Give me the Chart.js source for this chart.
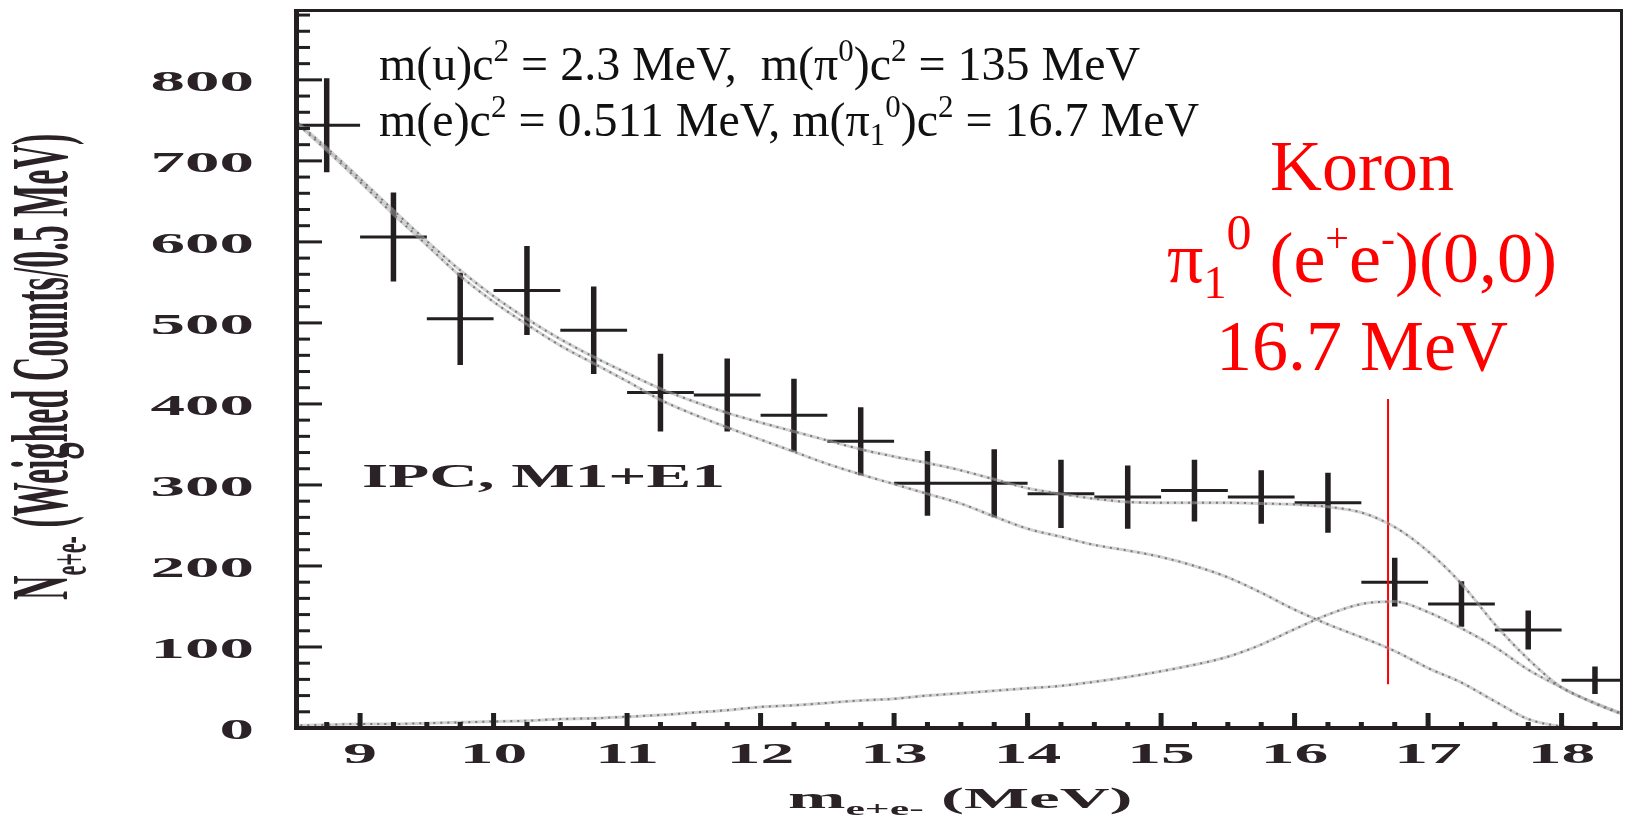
<!DOCTYPE html>
<html>
<head>
<meta charset="utf-8">
<title>Koron 16.7 MeV</title>
<script src="https://cdn.jsdelivr.net/npm/chart.js@4.4.1/dist/chart.umd.min.js"></script>
<style>
  html, body { margin: 0; padding: 0; background: #fff; }
</style>
</head>
<body>
<canvas id="chart" width="1625" height="819"></canvas>
<script>
// measured e+e- pairs, 0.5 MeV bins
const binCenters = [8.75, 9.25, 9.75, 10.25, 10.75, 11.25, 11.75, 12.25, 12.75, 13.25,
                    13.75, 14.25, 14.75, 15.25, 15.75, 16.25, 16.75, 17.25, 17.75, 18.25];
const counts = [744, 606, 505, 540, 491, 414, 411, 386, 354, 302,
                302, 289, 285, 293, 285, 278, 180, 153, 121, 59];
const countErrors = [58, 55, 57, 55, 54, 48, 45, 45, 42, 40,
                     42, 42, 39, 38, 33, 37, 30, 28, 24, 17];
const binHalfWidth = 0.25;

const curveMass = [8.5, 8.75, 9, 9.25, 9.5, 9.75, 10, 10.25, 10.5, 10.75, 11, 11.25, 11.5, 11.75,
                   12, 12.25, 12.5, 12.75, 13, 13.25, 13.5, 13.75, 14, 14.25, 14.5, 14.75, 15, 15.25,
                   15.5, 15.75, 16, 16.25, 16.5, 16.75, 17, 17.25, 17.5, 17.75, 18, 18.25, 18.5];
const ipcCurve = [750, 713, 674, 634, 596, 558, 526, 498, 472, 450, 428, 405, 387, 371,
                  356, 341, 326, 313, 301, 289, 277, 261, 246, 236, 226, 219, 211, 200,
                  186, 167, 146, 128, 112, 95, 74, 56, 33, 11, 2, 0, 0];
const koronCurve = [3, 4, 5, 5, 6, 7, 8, 9, 11, 12, 14, 16, 19, 22,
                    26, 28, 31, 34, 36, 40, 43, 46, 49, 52, 57, 63, 70, 78,
                    88, 103, 122, 140, 153, 156, 143, 123, 100, 72, 50, 30, 14];
const sumCurve = [752, 716, 678, 639, 601, 565, 533, 505, 480, 458, 438, 419, 403, 389,
                  377, 366, 355, 344, 335, 327, 318, 307, 296, 289, 283, 279, 278, 278,
                  278, 277, 276, 273, 266, 248, 218, 178, 128, 85, 50, 31, 15];

const yTickLabels = [0, 100, 200, 300, 400, 500, 600, 700, 800];
const xTickLabels = [9, 10, 11, 12, 13, 14, 15, 16, 17, 18];

const koronMass = 16.7;
const koronMarker = [54, 406];

const ink = '#231f20';
const labelInk = '#2b2228';

function pts(xs, ys) {
  return xs.map((x, i) => ({x: x, y: ys[i]}));
}

// error bars as broken line segments
const vBars = [], hBars = [];
binCenters.forEach((m, i) => {
  vBars.push({x: m, y: counts[i] - countErrors[i]}, {x: m, y: counts[i] + countErrors[i]}, {x: m, y: null});
  hBars.push({x: m - binHalfWidth, y: counts[i]}, {x: m + binHalfWidth, y: counts[i]}, {x: m, y: null});
});

// scanned dotted look: pale band plus darker dots
function curveSets(ys) {
  return [
    {data: pts(curveMass, ys), borderColor: 'rgba(165,165,165,0.5)', borderWidth: 3},
    {data: pts(curveMass, ys), borderColor: '#4a4a4a', borderWidth: 2, borderDash: [2, 5]}
  ];
}

function drawRuns(ctx, runs, x, y) {
  let cx = x;
  runs.forEach(r => {
    ctx.font = r.font;
    ctx.fillText(r.t, cx, y + (r.dy || 0));
    cx += ctx.measureText(r.t).width;
  });
  return cx - x;
}

function runsWidth(ctx, runs) {
  let w = 0;
  runs.forEach(r => { ctx.font = r.font; w += ctx.measureText(r.t).width; });
  return w;
}

function stretchText(ctx, text, x, y, sx, align) {
  ctx.save();
  ctx.translate(x, y);
  ctx.scale(sx, 1);
  ctx.textAlign = align;
  ctx.fillText(text, 0, 0);
  ctx.restore();
}

const axisFrame = {
  id: 'axisFrame',
  afterDatasetsDraw(chart) {
    const {ctx, chartArea: a, scales: {x, y}} = chart;
    ctx.save();
    ctx.fillStyle = ink;
    // inward ticks on the left axis
    for (let v = 0; v <= y.max; v += 20) {
      const py = y.getPixelForValue(v);
      const len = v % 100 === 0 ? 24 : 12;
      ctx.fillRect(a.left, py - 1.5, len, 3);
    }
    // inward ticks on the bottom axis
    for (let k = Math.ceil(x.min * 4); k / 4 <= x.max; k++) {
      const px = x.getPixelForValue(k / 4);
      const len = k % 4 === 0 ? 15 : 6;
      ctx.fillRect(px - 2.5, a.bottom - len, 5, len);
    }
    ctx.fillRect(a.left - 4, a.top - 2, 5, a.bottom - a.top + 4);
    ctx.fillRect(a.left - 4, a.bottom - 2, a.right - a.left + 6, 4);
    ctx.fillRect(a.left - 4, a.top - 2, a.right - a.left + 6, 3);
    ctx.fillRect(a.right - 1, a.top - 2, 3, a.bottom - a.top + 2);
    ctx.restore();
  },
  afterDraw(chart) {
    const {ctx, scales: {x, y}} = chart;
    ctx.save();
    ctx.fillStyle = labelInk;
    ctx.textBaseline = 'alphabetic';

    // stretched bold tick labels, as in the scanned figure
    ctx.font = 'bold 30px "Liberation Serif"';
    yTickLabels.forEach(v => stretchText(ctx, String(v), 254, y.getPixelForValue(v) + 11, 2.3, 'right'));
    xTickLabels.forEach(v => stretchText(ctx, String(v), x.getPixelForValue(v), 763, 2.25, 'center'));

    // x title
    const xTitle = [
      {t: 'm', font: 'bold 30px "Liberation Serif"'},
      {t: 'e+e-', font: 'bold 19px "Liberation Serif"', dy: 7},
      {t: ' (MeV)', font: 'bold 30px "Liberation Serif"'}
    ];
    ctx.save();
    ctx.translate(788, 808);
    ctx.scale(2.3, 1);
    drawRuns(ctx, xTitle, 0, 0);
    ctx.restore();

    // y title
    const yTitle = [
      {t: 'N', font: 'bold 34px "Liberation Serif"'},
      {t: 'e+e-', font: 'bold 22px "Liberation Serif"', dy: 8},
      {t: ' (Weighed Counts/0.5 MeV)', font: 'bold 34px "Liberation Serif"'}
    ];
    ctx.save();
    ctx.translate(67, 600);
    ctx.rotate(-Math.PI / 2);
    ctx.scale(1, 2.35);
    drawRuns(ctx, yTitle, 0, 0);
    ctx.restore();

    // IPC label
    ctx.font = 'bold 33px "Liberation Serif"';
    const ipc = 'IPC, M1+E1';
    stretchText(ctx, ipc, 362, 487, 363 / ctx.measureText(ipc).width, 'left');

    // mass annotation
    ctx.fillStyle = '#111';
    const big = '48px "Liberation Serif"', small = '31px "Liberation Serif"';
    drawRuns(ctx, [
      {t: 'm(u)c', font: big}, {t: '2', font: small, dy: -19},
      {t: ' = 2.3 MeV,  m(\u03c0', font: big}, {t: '0', font: small, dy: -19},
      {t: ')c', font: big}, {t: '2', font: small, dy: -19},
      {t: ' = 135 MeV', font: big}
    ], 379, 80);
    drawRuns(ctx, [
      {t: 'm(e)c', font: big}, {t: '2', font: small, dy: -19},
      {t: ' = 0.511 MeV, m(\u03c0', font: big}, {t: '1', font: small, dy: 9},
      {t: '0', font: small, dy: -19},
      {t: ')c', font: big}, {t: '2', font: small, dy: -19},
      {t: ' = 16.7 MeV', font: big}
    ], 379, 136);

    // Koron label
    ctx.fillStyle = '#ff0000';
    const red = '72px "Liberation Serif"';
    const cx = 1362;
    const lines = [
      [[{t: 'Koron', font: red}], 190],
      [[{t: '\u03c0', font: red}, {t: '1', font: '46px "Liberation Serif"', dy: 16},
        {t: '0', font: '50px "Liberation Serif"', dy: -33},
        {t: ' (e', font: red}, {t: '+', font: '42px "Liberation Serif"', dy: -30},
        {t: 'e', font: red}, {t: '-', font: '42px "Liberation Serif"', dy: -30},
        {t: ')(0,0)', font: red}], 282],
      [[{t: '16.7 MeV', font: red}], 370]
    ];
    lines.forEach(([runs, base]) => drawRuns(ctx, runs, cx - runsWidth(ctx, runs) / 2, base));
    ctx.restore();
  }
};

const ctx = document.getElementById('chart');
new Chart(ctx, {
  type: 'scatter',
  data: {
    datasets: [
      ...curveSets(ipcCurve),
      ...curveSets(koronCurve),
      ...curveSets(sumCurve),
      {data: [{x: koronMass, y: koronMarker[0]}, {x: koronMass, y: koronMarker[1]}],
       borderColor: '#ff0000', borderWidth: 2},
      {data: hBars, borderColor: ink, borderWidth: 3},
      {data: vBars, borderColor: ink, borderWidth: 5.5}
    ].map(d => Object.assign({showLine: true, pointRadius: 0, spanGaps: false,
                              cubicInterpolationMode: 'monotone', borderCapStyle: 'butt'}, d))
  },
  options: {
    responsive: false,
    devicePixelRatio: 1,
    animation: false,
    layout: {padding: {top: 11, right: 4, left: 0, bottom: 0}},
    plugins: {legend: {display: false}, tooltip: {enabled: false}},
    scales: {
      x: {
        type: 'linear', min: 8.535, max: 18.445,
        ticks: {display: false}, grid: {display: false}, border: {display: false},
        afterFit: s => { s.height = 91; }
      },
      y: {
        min: 0, max: 885,
        ticks: {display: false}, grid: {display: false}, border: {display: false},
        afterFit: s => { s.width = 298; }
      }
    }
  },
  plugins: [axisFrame]
});
</script>
</body>
</html>
